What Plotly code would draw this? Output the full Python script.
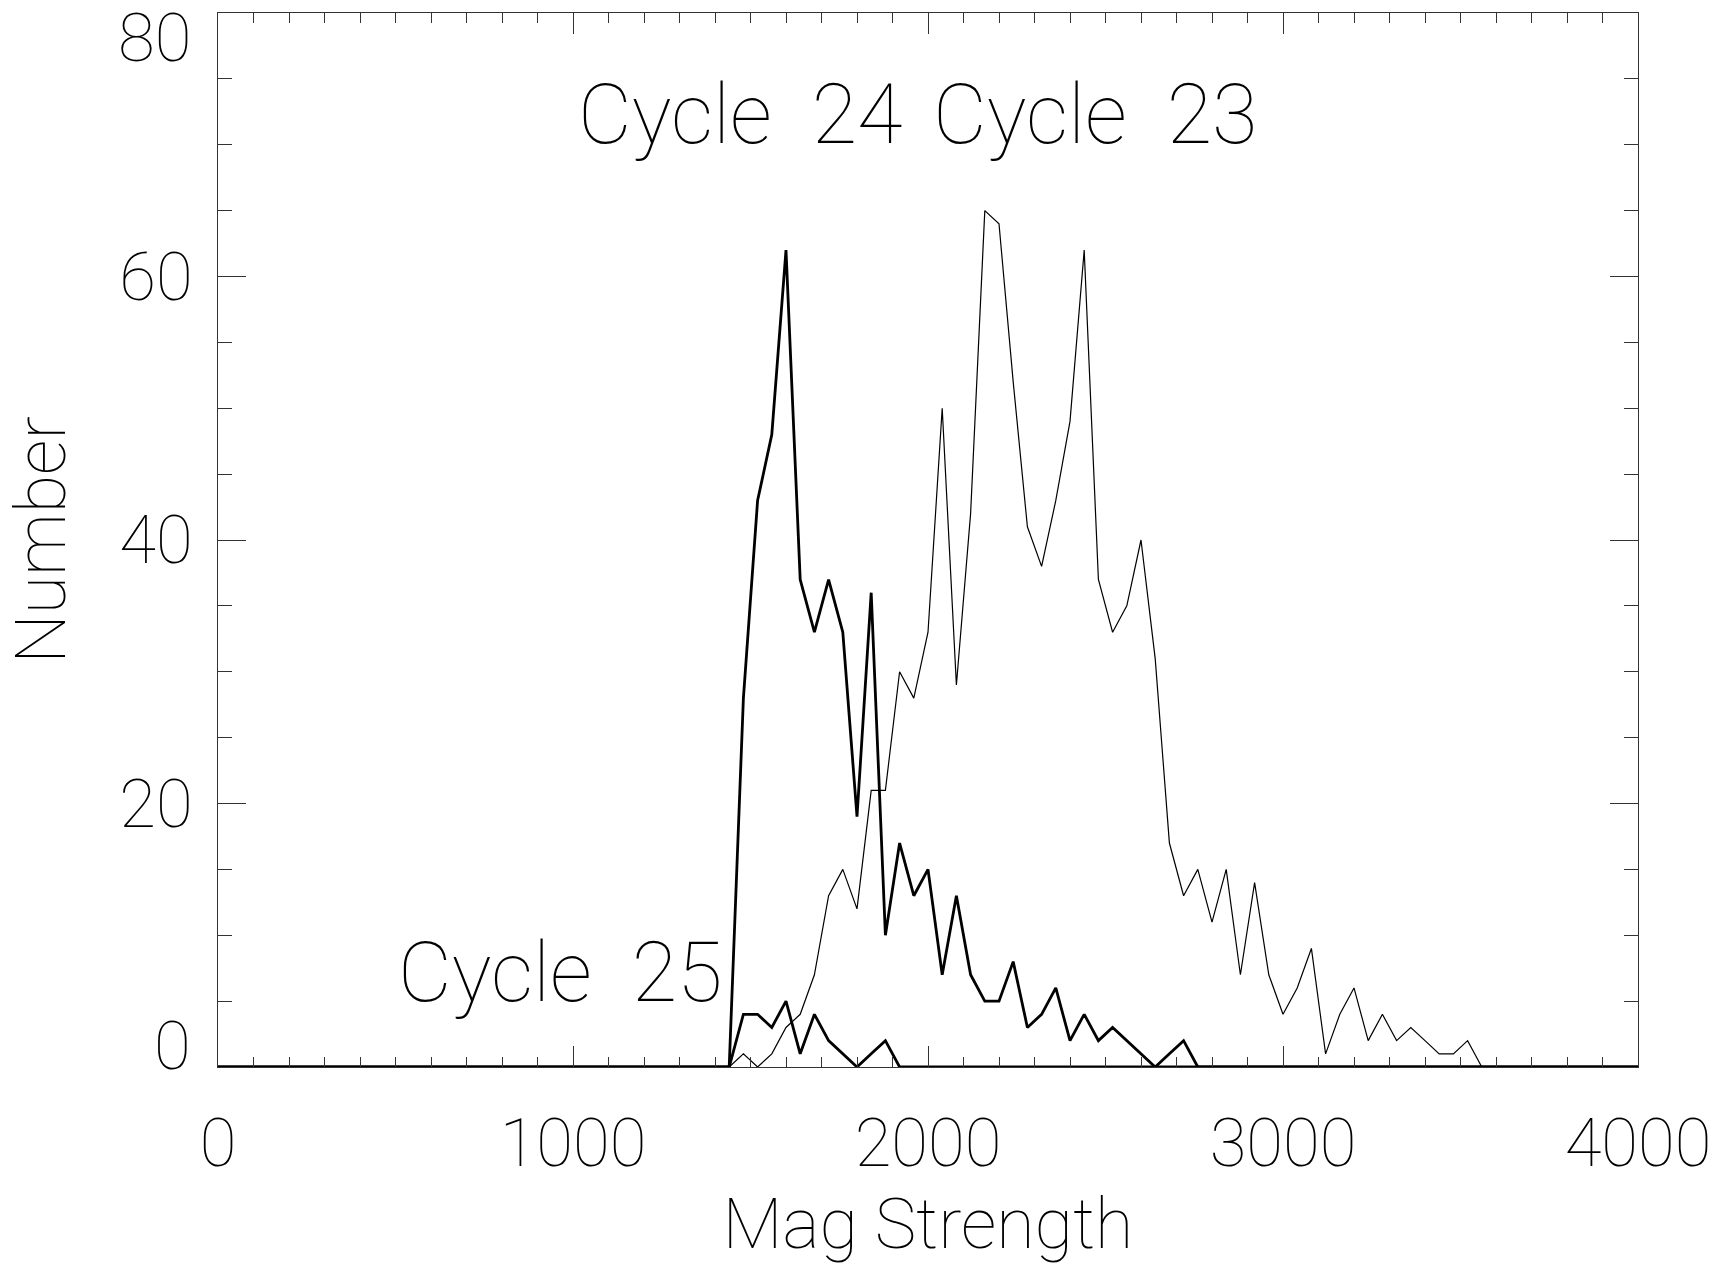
import plotly.graph_objects as go

# Magnetic-strength bins (left edges, step 40) and counts
mag_strength = list(range(0, 4001, 40))

cycle23_nonzero = [0, 1, 0, 1, 3, 4, 7, 13, 15, 12, 21, 21, 30, 28, 33, 50, 29, 42,
                   65, 64, 52, 41, 38, 43, 49, 62, 37, 33, 35, 40, 31, 17, 13, 15,
                   11, 15, 7, 14, 7, 4, 6, 9, 1, 4, 6, 2, 4, 2, 3, 2, 1, 1, 2, 0]
cycle24_nonzero = [0, 28, 43, 48, 62, 37, 33, 37, 33, 19, 36, 10, 17, 13, 15, 7, 13,
                   7, 5, 5, 8, 3, 4, 6, 2, 4, 2, 3, 2, 1, 0, 1, 2, 0]
cycle25_nonzero = [0, 4, 4, 3, 5, 1, 4, 2, 1, 0, 1, 2, 0]

lead_zeros = [0] * 36  # bins 0 .. 1400 are empty


def pad(vals):
    v = lead_zeros + vals
    return v + [0] * (len(mag_strength) - len(v))


cycle23 = pad(cycle23_nonzero)
cycle24 = pad(cycle24_nonzero)
cycle25 = pad(cycle25_nonzero)

FONT = "Roboto"
W = 100
TICK_SIZE = 67
TITLE_SIZE = 70

fig = go.Figure()
fig.add_trace(go.Scatter(x=mag_strength, y=cycle23, mode="lines",
                         line=dict(color="black", width=1.2), showlegend=False))
fig.add_trace(go.Scatter(x=mag_strength, y=cycle24, mode="lines",
                         line=dict(color="black", width=2.8), showlegend=False))
fig.add_trace(go.Scatter(x=mag_strength, y=cycle25, mode="lines",
                         line=dict(color="black", width=2.8), showlegend=False))

labels = [("Cycle&nbsp; 24", 1010, 72.3), ("Cycle&nbsp; 23", 2010, 72.3),
          ("Cycle&nbsp; 25", 505, 7.2)]
for txt, xv, yv in labels:
    fig.add_annotation(x=xv, y=yv, xref="x", yref="y", text=txt, showarrow=False,
                       xanchor="left", yanchor="middle", borderpad=0,
                       font=dict(family=FONT, size=83, color="black", weight=W))

# end labels of the y axis sit inside the axis range, as in the original
fig.add_annotation(x=0, y=0, xref="paper", yref="y", text="0", showarrow=False,
                   xanchor="right", yanchor="bottom", xshift=-26, yshift=-19, borderpad=0,
                   font=dict(family=FONT, size=TICK_SIZE, color="black", weight=W))
fig.add_annotation(x=0, y=80, xref="paper", yref="y", text="80", showarrow=False,
                   xanchor="right", yanchor="top", xshift=-26, yshift=15, borderpad=0,
                   font=dict(family=FONT, size=TICK_SIZE, color="black", weight=W))

fig.update_xaxes(range=[0, 4000], tickvals=[0, 1000, 2000, 3000, 4000],
                 ticks="inside", ticklen=21, tickwidth=1, tickcolor="#333",
                 minor=dict(ticks="inside", ticklen=10, dtick=100, tickcolor="#333", tickwidth=1),
                 showline=True, linecolor="#333", linewidth=1, mirror="allticks",
                 showgrid=False, zeroline=False, ticklabelstandoff=18,
                 tickfont=dict(family=FONT, size=TICK_SIZE, color="black", weight=W),
                 title=dict(text="Mag Strength", standoff=36,
                            font=dict(family=FONT, size=TITLE_SIZE, color="black", weight=W)))
fig.update_yaxes(range=[0, 80], tickvals=[20, 40, 60],
                 ticks="inside", ticklen=28, tickwidth=1, tickcolor="#333",
                 minor=dict(ticks="inside", ticklen=14, dtick=5, tickcolor="#333", tickwidth=1),
                 showline=True, linecolor="#333", linewidth=1, mirror="allticks",
                 showgrid=False, zeroline=False, ticklabelstandoff=11,
                 tickfont=dict(family=FONT, size=TICK_SIZE, color="black", weight=W),
                 title=dict(text="Number", standoff=44,
                            font=dict(family=FONT, size=TITLE_SIZE, color="black", weight=W)))

fig.update_layout(width=1718, height=1265, plot_bgcolor="white", paper_bgcolor="white",
                  margin=dict(l=218, r=80, t=13, b=198, autoexpand=False))

fig.write_html("out.html")
